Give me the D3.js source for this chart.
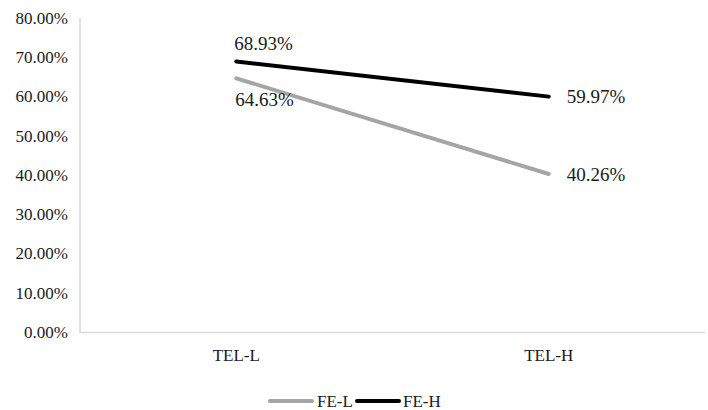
<!DOCTYPE html>
<html><head><meta charset="utf-8">
<script src="https://cdn.jsdelivr.net/npm/d3@7"></script>
<style>body{margin:0;background:#fff}svg{display:block}text{font-family:"Liberation Serif","Times New Roman",Times,"DejaVu Serif",serif;fill:#1a1a1a}</style>
</head><body>
<svg id="c" width="708" height="410"></svg>
<script>
const categories = ["TEL-L", "TEL-H"];
const seriesNames = ["FE-L", "FE-H"];
const feL = [64.63, 40.26];
const feH = [68.93, 59.97];
const yTicks = [0, 10, 20, 30, 40, 50, 60, 70, 80];
const colors = ["#a5a5a5", "#000000"];

(function () {
const svg = d3.select("#c");
const mLeft = 80, mRight = 705, mTop = 18, mBottom = 332;
const x = d3.scalePoint().domain(categories).range([mLeft, mRight]).padding(0.5);
const y = d3.scaleLinear().domain([0, 80]).range([mBottom, mTop]);

svg.append("line").attr("x1", mLeft).attr("x2", mLeft).attr("y1", mTop).attr("y2", mBottom + 1)
  .attr("stroke", "#d9d9d9").attr("stroke-width", 1.5);
svg.append("line").attr("x1", mLeft).attr("x2", mRight).attr("y1", mBottom + 0.5).attr("y2", mBottom + 0.5)
  .attr("stroke", "#d9d9d9").attr("stroke-width", 1.5);

svg.selectAll(".yt").data(yTicks).enter().append("text")
  .attr("x", 68).attr("y", d => y(d)).attr("dy", "0.35em")
  .attr("text-anchor", "end").attr("font-size", 17)
  .text(d => d.toFixed(2) + "%");

svg.selectAll(".xt").data(categories).enter().append("text")
  .attr("x", d => x(d)).attr("y", 361)
  .attr("text-anchor", "middle").attr("font-size", 17)
  .text(d => d);

const series = [
  {name: seriesNames[0], values: feL, color: colors[0]},
  {name: seriesNames[1], values: feH, color: colors[1]}
];
const line = d3.line().x((d, i) => x(categories[i])).y(d => y(d));
series.forEach(s => {
  svg.append("path").datum(s.values).attr("d", line)
    .attr("fill", "none").attr("stroke", s.color).attr("stroke-width", 4)
    .attr("stroke-linecap", "round");
});

const fmt = v => v.toFixed(2) + "%";
svg.append("text").attr("x", x(categories[0]) - 2).attr("y", y(feH[0]) - 11)
  .attr("font-size", 19).text(fmt(feH[0]));
svg.append("text").attr("x", x(categories[0]) - 1).attr("y", y(feL[0]) + 28)
  .attr("font-size", 19).text(fmt(feL[0]));
[feH[1], feL[1]].forEach(v => {
  svg.append("text").attr("x", x(categories[1]) + 18).attr("y", y(v)).attr("dy", "0.35em")
    .attr("font-size", 19).text(fmt(v));
});

const leg = [{x1: 270, tx: 317}, {x1: 357, tx: 403}];
series.forEach((s, i) => {
  svg.append("line").attr("x1", leg[i].x1).attr("x2", leg[i].x1 + 42).attr("y1", 401).attr("y2", 401)
    .attr("stroke", s.color).attr("stroke-width", 4).attr("stroke-linecap", "round");
  svg.append("text").attr("x", leg[i].tx).attr("y", 401).attr("dy", "0.35em")
    .attr("font-size", 17).text(s.name);
});
})();
</script>
</body></html>
